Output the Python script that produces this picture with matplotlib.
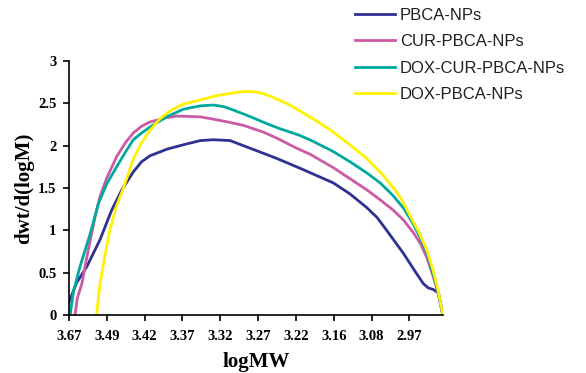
import matplotlib
matplotlib.use("Agg")
import matplotlib.pyplot as plt

# category labels on the x axis (evenly spaced, Excel style)
tick_labels = ["3.67", "3.49", "3.42", "3.37", "3.32", "3.27", "3.22", "3.16", "3.08", "2.97"]

# curves, x in tick-index units
pbca_x = [0.0, 0.2, 0.47, 0.82, 1.13, 1.4, 1.7, 1.92, 2.14, 2.6, 3.02, 3.47, 3.82, 4.26, 4.61, 5.14, 5.49,
          6.02, 6.28, 6.99, 7.43, 7.87, 8.15, 8.4, 8.84, 9.19, 9.37, 9.5, 9.64, 9.77, 9.82, 9.86, 9.89]
pbca_y = [0.15, 0.38, 0.57, 0.89, 1.24, 1.48, 1.69, 1.81, 1.88, 1.96, 2.01, 2.06, 2.07, 2.06, 2.0, 1.91, 1.85,
          1.75, 1.7, 1.56, 1.43, 1.27, 1.15, 1.0, 0.73, 0.49, 0.37, 0.32, 0.3, 0.26, 0.15, 0.05, 0.0]

cur_x = [0.16, 0.22, 0.34, 0.51, 0.69, 0.82, 1.0, 1.26, 1.5, 1.7, 1.92, 2.14, 2.58, 2.85, 3.47, 3.73, 4.2,
         4.61, 5.14, 5.49, 6.02, 6.37, 6.99, 7.43, 7.87, 8.23, 8.57, 8.85, 9.11, 9.3, 9.46, 9.62, 9.75, 9.83, 9.89]
cur_y = [0.0, 0.2, 0.37, 0.77, 1.16, 1.4, 1.62, 1.87, 2.04, 2.15, 2.23, 2.28, 2.33, 2.35, 2.34, 2.32, 2.28,
         2.24, 2.16, 2.09, 1.97, 1.9, 1.74, 1.61, 1.48, 1.36, 1.24, 1.12, 0.97, 0.84, 0.68, 0.47, 0.28, 0.12, 0.0]

doxcur_x = [0.03, 0.12, 0.29, 0.56, 0.78, 1.0, 1.26, 1.5, 1.7, 1.92, 2.14, 2.58, 3.02, 3.47, 3.82, 4.1, 4.35,
            4.7, 5.23, 5.58, 6.11, 6.46, 6.99, 7.43, 7.87, 8.23, 8.57, 8.85, 9.11, 9.3, 9.46, 9.62, 9.75, 9.83, 9.89]
doxcur_y = [0.0, 0.28, 0.57, 0.96, 1.32, 1.55, 1.75, 1.93, 2.07, 2.15, 2.22, 2.34, 2.43, 2.47, 2.48, 2.46,
            2.42, 2.36, 2.26, 2.2, 2.12, 2.05, 1.93, 1.81, 1.68, 1.56, 1.41, 1.26, 1.07, 0.9, 0.74, 0.5, 0.29, 0.12, 0.0]

dox_x = [0.73, 0.82, 0.95, 1.08, 1.25, 1.44, 1.7, 1.9, 2.14, 2.41, 2.7, 3.02, 3.47, 3.9, 4.3, 4.5, 4.7, 4.9,
         5.1, 5.35, 5.84, 6.37, 6.9, 7.43, 7.87, 8.31, 8.67, 8.85, 9.02, 9.25, 9.46, 9.62, 9.75, 9.83, 9.89]
dox_y = [0.0, 0.37, 0.7, 1.0, 1.28, 1.5, 1.84, 2.02, 2.18, 2.32, 2.42, 2.49, 2.54, 2.59, 2.62, 2.635, 2.64,
         2.635, 2.62, 2.58, 2.48, 2.34, 2.19, 2.01, 1.85, 1.65, 1.45, 1.32, 1.17, 0.98, 0.77, 0.54, 0.31, 0.13, 0.0]

fig = plt.figure(figsize=(5.86, 3.73), dpi=100)
ax = fig.add_axes([69 / 586, 58 / 373, 374 / 586, 254 / 373])

lw = 2.0
ax.plot(pbca_x, pbca_y, color="#2E3192", lw=lw, label="PBCA-NPs")
ax.plot(cur_x, cur_y, color="#CC5AA5", lw=lw, label="CUR-PBCA-NPs")
ax.plot(doxcur_x, doxcur_y, color="#00A99D", lw=lw, label="DOX-CUR-PBCA-NPs")
ax.plot(dox_x, dox_y, color="#FFF200", lw=lw, label="DOX-PBCA-NPs")

ax.set_xlim(0, 9.89)
ax.set_ylim(0, 3)
ax.set_xticks(range(len(tick_labels)))
ax.set_xticklabels(tick_labels)
ax.set_yticks([0, 0.5, 1, 1.5, 2, 2.5, 3])
ax.set_yticklabels(["0", "0.5", "1", "1.5", "2", "2.5", "3"])

for s in ["top", "right"]:
    ax.spines[s].set_visible(False)
for s in ["left", "bottom"]:
    ax.spines[s].set_linewidth(1.2)

ax.tick_params(direction="out", length=4, width=1.2)
ax.tick_params(axis="x", pad=7)
ax.tick_params(axis="y", pad=5)
for lab in ax.get_xticklabels() + ax.get_yticklabels():
    lab.set_fontfamily("Liberation Serif")
    lab.set_fontweight("bold")
    lab.set_fontsize(10.5)

ax.set_xlabel("logMW", fontfamily="Liberation Serif", fontweight="bold", fontsize=15, labelpad=6)
ax.set_ylabel("dwt/d(logM)", fontfamily="Liberation Serif", fontweight="bold", fontsize=15, labelpad=3)

fig.legend(loc="upper left", bbox_to_anchor=(355 / 586, 1 - 8 / 373), frameon=False,
           prop={"family": "Liberation Sans", "size": 12}, handlelength=2.4, handletextpad=0.3,
           labelspacing=0.68, borderpad=0, borderaxespad=0, labelcolor="#231F20")

fig.savefig("out.png", dpi=100)
